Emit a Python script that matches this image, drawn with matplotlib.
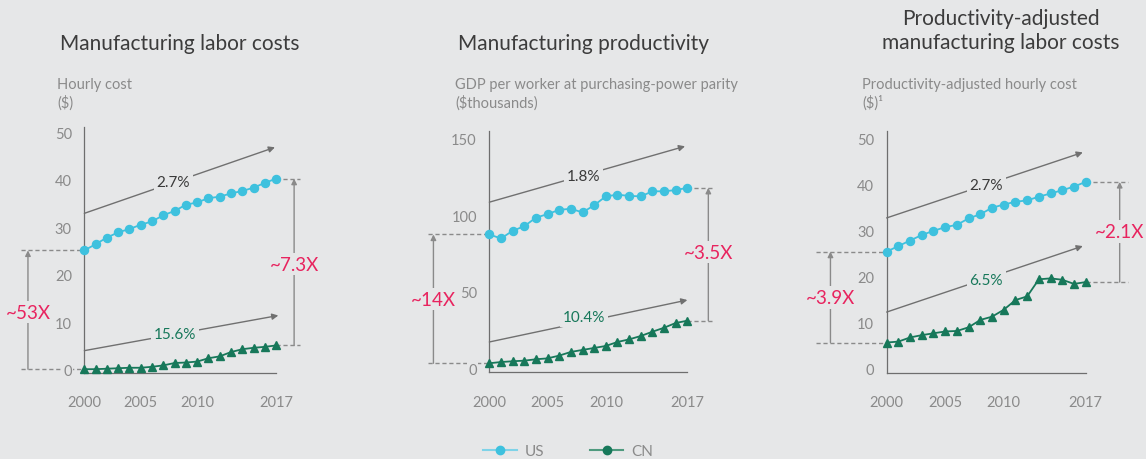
import matplotlib
matplotlib.use("Agg")
import matplotlib.pyplot as plt
from matplotlib.lines import Line2D

# Data
years = list(range(2000, 2018))

labor_us = [25.1, 26.4, 27.8, 28.9, 29.6, 30.5, 31.2, 32.5, 33.4, 34.7,
            35.2, 36.1, 36.4, 37.1, 37.6, 38.3, 39.3, 40.2]
labor_cn = [0.1, 0.1, 0.2, 0.3, 0.4, 0.4, 0.6, 0.9, 1.4, 1.5,
            1.7, 2.4, 2.8, 3.7, 4.3, 4.6, 4.8, 5.1]

prod_us = [87.4, 84.8, 89.8, 92.8, 98.4, 100.7, 103.5, 104.2, 101.8, 106.5,
           112.3, 113.4, 112.6, 112.3, 115.6, 115.6, 116.4, 117.9]
prod_cn = [3.3, 4.1, 4.6, 5.0, 5.9, 6.5, 8.3, 10.7, 12.0, 13.3,
           14.6, 17.2, 18.9, 21.1, 23.9, 26.5, 29.6, 31.1]

adj_us = [25.4, 26.6, 27.8, 29.0, 29.9, 30.7, 31.2, 32.6, 33.5, 34.9,
          35.6, 36.2, 36.5, 37.3, 38.0, 38.7, 39.5, 40.5]
adj_cn = [5.7, 5.9, 6.8, 7.3, 7.7, 8.1, 8.2, 9.0, 10.6, 11.3,
          12.8, 14.9, 15.7, 19.4, 19.6, 19.3, 18.4, 18.8]

titles = ["Manufacturing labor costs", "Manufacturing productivity",
          "Productivity-adjusted\nmanufacturing labor costs"]
ylabels = ["Hourly cost\n($)", "GDP per worker at purchasing-power parity\n($thousands)",
           "Productivity-adjusted hourly cost\n($)\u00b9"]
yticks = [[0, 10, 20, 30, 40, 50], [0, 50, 100, 150], [0, 10, 20, 30, 40, 50]]
xticks = [2000, 2005, 2010, 2017]
us_growth = ["2.7%", "1.8%", "2.7%"]
cn_growth = ["15.6%", "10.4%", "6.5%"]
start_ratio = ["~53X", "~14X", "~3.9X"]
end_ratio = ["~7.3X", "~3.5X", "~2.1X"]

BG = "#e6e7e8"
US_C = "#3ec1de"
CN_C = "#17785a"
RED = "#e8245f"
GRAY = "#8a8a8a"
DARK = "#3a3a3a"

plt.rcParams["font.family"] = ["Lato", "DejaVu Sans"]

fig = plt.figure(figsize=(11.46, 4.6), dpi=100, facecolor=BG)

# axes boxes in figure fractions
boxes = [[0.0736, 0.187, 0.1673, 0.534],
         [0.4270, 0.1885, 0.1728, 0.5246],
         [0.7737, 0.187, 0.1737, 0.5267]]
ylims = [(-0.7, 51), (-2.6, 155), (-0.9, 51.6)]
series = [(labor_us, labor_cn), (prod_us, prod_cn), (adj_us, adj_cn)]

# annotation layout: (x of left dashed start, x of left arrow, y of left label,
#                     x of right dashed end, x of right arrow, y of right label)
ratio_pos = [(1994.4, 1995.0, 12.1, 2019.1, 2018.6, 22.2),
             (1994.7, 1995.2, 45.2, 2019.2, 2018.8, 75.9),
             (1994.0, 1995.2, 15.4, 2020.6, 2019.9, 29.7)]
# trend arrows: (us start y, us end x, us end y, us label x, us label y, cn ...)
trend_pos = [(32.9, 2016.9, 46.8, 2007.9, 39.5, 4.0, 2017.2, 11.4, 2008.0, 7.5),
             (108.5, 2016.8, 145.0, 2008.1, 125.4, 17.2, 2017.0, 44.6, 2008.1, 33.5),
             (32.7, 2016.75, 46.9, 2008.5, 39.8, 12.3, 2016.75, 26.6, 2008.5, 19.3)]
title_x = [180, 584, 1001]
ylabel_x = [57, 455, 862]

for i in range(3):
    ax = fig.add_axes(boxes[i])
    ax.set_facecolor(BG)
    us, cn = series[i]
    ax.plot(years, us, color=US_C, marker="o", markersize=5.8, lw=1.3, clip_on=False, zorder=4)
    ax.plot(years, cn, color=CN_C, marker="^", markersize=5.5, lw=1.3, clip_on=False, zorder=4)
    ax.set_xlim(2000, 2017)
    ax.set_ylim(*ylims[i])
    ax.set_xticks(xticks)
    ax.set_yticks(yticks[i])
    for s in ["top", "right"]:
        ax.spines[s].set_visible(False)
    for s in ["left", "bottom"]:
        ax.spines[s].set_color("#6e6e6e")
        ax.spines[s].set_linewidth(0.9)
    ax.tick_params(length=0, colors=GRAY, labelsize=10.5)
    ax.tick_params(axis="y", pad=9)
    ax.tick_params(axis="x", pad=16)
    for lab in ax.get_yticklabels():
        lab.set_bbox(dict(facecolor=BG, edgecolor="none", pad=1))

    dash = dict(color=GRAY, lw=1, ls=(0, (3, 2)), clip_on=False, zorder=1)
    x0, xa, yl, x1, xb, yr = ratio_pos[i]
    # left ratio
    ax.plot([x0, 2000], [us[0], us[0]], **dash)
    ax.plot([x0, 2000], [cn[0], cn[0]], **dash)
    ax.annotate("", xy=(xa, us[0]), xytext=(xa, cn[0]), annotation_clip=False,
                arrowprops=dict(arrowstyle="-|>", color=GRAY, lw=1, mutation_scale=8,
                                shrinkA=0, shrinkB=0))
    ax.text(xa, yl, start_ratio[i], color=RED, fontsize=13.5, ha="center", va="center",
            clip_on=False, zorder=5, bbox=dict(facecolor=BG, edgecolor="none", pad=2))
    # right ratio
    ax.plot([2017, x1], [us[-1], us[-1]], **dash)
    ax.plot([2017, x1], [cn[-1], cn[-1]], **dash)
    ax.annotate("", xy=(xb, us[-1]), xytext=(xb, cn[-1]), annotation_clip=False,
                arrowprops=dict(arrowstyle="-|>", color=GRAY, lw=1, mutation_scale=8,
                                shrinkA=0, shrinkB=0))
    ax.text(xb, yr, end_ratio[i], color=RED, fontsize=13.5, ha="center", va="center",
            clip_on=False, zorder=5, bbox=dict(facecolor=BG, edgecolor="none", pad=2))

    # growth trend arrows
    t = trend_pos[i]
    ax.annotate("", xy=(t[1], t[2]), xytext=(2000, t[0]), annotation_clip=False,
                arrowprops=dict(arrowstyle="-|>", color="#707070", lw=1, mutation_scale=9,
                                shrinkA=0, shrinkB=0), zorder=3)
    ax.text(t[3], t[4], us_growth[i], color=DARK, fontsize=11, ha="center", va="center",
            clip_on=False, zorder=5, bbox=dict(facecolor=BG, edgecolor="none", pad=2))
    ax.annotate("", xy=(t[6], t[7]), xytext=(2000, t[5]), annotation_clip=False,
                arrowprops=dict(arrowstyle="-|>", color="#707070", lw=1, mutation_scale=9,
                                shrinkA=0, shrinkB=0), zorder=3)
    ax.text(t[8], t[9], cn_growth[i], color=CN_C, fontsize=11, ha="center", va="center",
            clip_on=False, zorder=5, bbox=dict(facecolor=BG, edgecolor="none", pad=2))

    # titles and axis labels in figure pixels
    fig.text(title_x[i] / 1146, 1 - 44 / 460 if i < 2 else 1 - 31 / 460, titles[i],
             ha="center", va="center", fontsize=15, color="#3c3c3c", fontweight="normal",
             linespacing=1.2)
    fig.text(ylabel_x[i] / 1146, 1 - 94 / 460, ylabels[i], ha="left", va="center",
             fontsize=10.5, color=GRAY, linespacing=1.3)

handles = [Line2D([], [], color="#7fd3e8", marker="o", markerfacecolor=US_C,
                  markeredgecolor=US_C, markersize=6, lw=1.5),
           Line2D([], [], color="#4f9a7e", marker="o", markerfacecolor=CN_C,
                  markeredgecolor=CN_C, markersize=6, lw=1.5)]
leg = fig.legend(handles, ["US", "CN"], loc="center", bbox_to_anchor=(568 / 1146, 1 - 452 / 460),
                 ncol=2, frameon=False, fontsize=11, handlelength=2.2, columnspacing=3,
                 handletextpad=0.5)
for txt in leg.get_texts():
    txt.set_color(GRAY)

fig.savefig("out.png", dpi=100, facecolor=BG)
